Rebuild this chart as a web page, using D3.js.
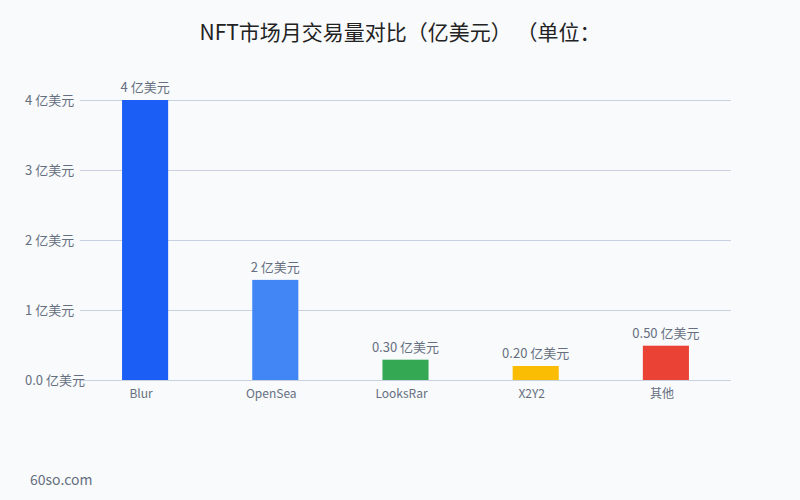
<!DOCTYPE html>
<html>
<head>
<meta charset="utf-8">
<script src="https://cdn.jsdelivr.net/npm/d3@7"></script>
<style>
  body { margin: 0; background: #f8fafc; }
  svg { display: block; font-family: "Noto Sans CJK SC", "Noto Sans", sans-serif; }
  .title { text-spacing-trim: space-all; font-kerning: none; white-space: pre; }
</style>
</head>
<body>
<svg id="chart" width="800" height="500"></svg>
<script>
const categories = ["Blur", "OpenSea", "LooksRar", "X2Y2", "其他"];
const values = [4.0, 1.43, 0.29, 0.2, 0.49];
const valueLabels = ["4 亿美元", "2 亿美元", "0.30 亿美元", "0.20 亿美元", "0.50 亿美元"];
const barColors = ["#1b5ef5", "#4286f5", "#34a853", "#fbbc04", "#ea4336"];
const yTicks = [0, 1, 2, 3, 4];
const yTickLabels = ["0.0 亿美元", "1 亿美元", "2 亿美元", "3 亿美元", "4 亿美元"];

const width = 800, height = 500;
const margin = {top: 100, right: 69, bottom: 120, left: 80};

const svg = d3.select("#chart");

svg.append("rect")
    .attr("width", width)
    .attr("height", height)
    .attr("fill", "#f8fafc");

const x = d3.scaleBand()
    .domain(categories)
    .range([margin.left, width - margin.right])
    .paddingInner(0.646)
    .paddingOuter(0.323);

const y = d3.scaleLinear()
    .domain([0, 4])
    .range([height - margin.bottom, margin.top]);

// gridlines
svg.append("g")
    .selectAll("line")
    .data(yTicks)
    .enter().append("line")
        .attr("x1", margin.left)
        .attr("x2", width - margin.right)
        .attr("y1", d => y(d) + 0.5)
        .attr("y2", d => y(d) + 0.5)
        .attr("stroke", "#c9d1e0")
        .attr("stroke-width", 1);

// y tick labels
svg.append("g")
    .style("font-size", "13px")
    .attr("fill", "#666f80")
    .selectAll("text")
    .data(yTicks)
    .enter().append("text")
        .attr("x", 25)
        .attr("y", d => y(d))
        .attr("dy", "0.35em")
        .text((d, i) => yTickLabels[i]);

// bars
svg.append("g")
    .selectAll("rect")
    .data(categories)
    .enter().append("rect")
        .attr("x", d => x(d))
        .attr("y", (d, i) => y(values[i]))
        .attr("width", x.bandwidth())
        .attr("height", (d, i) => y(0) - y(values[i]))
        .attr("fill", (d, i) => barColors[i]);

// value labels
svg.append("g")
    .attr("text-anchor", "middle")
    .attr("fill", "#666f80")
    .style("font-size", "13px")
    .selectAll("text")
    .data(categories)
    .enter().append("text")
        .attr("x", d => x(d) + x.bandwidth() / 2)
        .attr("y", (d, i) => y(values[i]) - 8)
        .text((d, i) => valueLabels[i]);

// x axis labels
svg.append("g")
    .attr("text-anchor", "middle")
    .attr("fill", "#666f80")
    .style("font-size", "12px")
    .selectAll("text")
    .data(categories)
    .enter().append("text")
        .attr("x", d => x(d) + x.bandwidth() / 2)
        .attr("dx", -4)
        .attr("y", y(0) + 18)
        .text(d => d);

// title
svg.append("text")
    .attr("class", "title")
    .attr("x", 400)
    .attr("y", 40)
    .attr("text-anchor", "middle")
    .attr("fill", "#222")
    .style("font-size", "21px")
    .text("NFT市场月交易量对比（亿美元） （单位：");

// watermark
svg.append("text")
    .attr("x", 30)
    .attr("y", 485)
    .attr("fill", "#666f80")
    .style("font-size", "14px")
    .text("60so.com");
</script>
</body>
</html>
